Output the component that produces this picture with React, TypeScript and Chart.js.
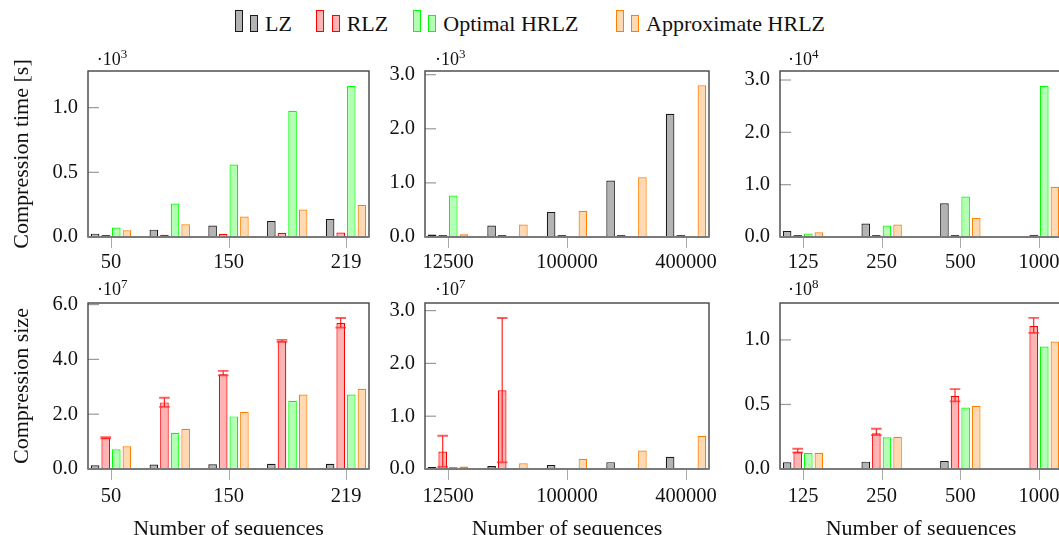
import React, { useEffect, useRef } from "react";
import { Chart, registerables } from "chart.js";

Chart.register(...registerables);

const FONT = "Liberation Serif";
const TEXT = "#111111";

// ---------------- data ----------------
const SERIES = ["LZ", "RLZ", "Optimal HRLZ", "Approximate HRLZ"];

// sequence counts (x categories) and the ones that carry a tick label
const seqsA = ["50", "100", "150", "200", "219"];
const seqsAShown = ["50", "150", "219"];
const seqsB = ["12500", "50000", "100000", "200000", "400000"];
const seqsBShown = ["12500", "100000", "400000"];
const seqsC = ["125", "250", "500", "1000"];
const seqsCShown = ["125", "250", "500", "1000"];

// compression time [s]
const timeLZ_A = [26, 57, 88, 124, 139];
const timeRLZ_A = [9, 18, 25, 33, 34];
const timeOpt_A = [73, 258, 560, 975, 1168];
const timeApx_A = [52, 98, 158, 212, 248];

const timeLZ_B = [44, 211, 463, 1044, 2278];
const timeRLZ_B = [6, 6, 7, 25, 37];
const timeOpt_B = [766, null, null, null, null];
const timeApx_B = [50, 229, 481, 1105, 2803];

const timeLZ_C = [1150, 2570, 6460, null];
const timeRLZ_C = [120, 150, 200, 420];
const timeOpt_C = [650, 2180, 7740, 28900];
const timeApx_C = [900, 2370, 3640, 9580];

// compression size
const sizeLZ_A = [1.34e6, 1.6e6, 1.7e6, 1.9e6, 1.9e6];
const sizeRLZ_A = [1.14e7, 2.43e7, 3.46e7, 4.66e7, 5.33e7];
const sizeRLZLow_A = [1.12e7, 2.27e7, 3.42e7, 4.64e7, 5.16e7];
const sizeRLZHigh_A = [1.16e7, 2.6e7, 3.58e7, 4.71e7, 5.51e7];
const sizeOpt_A = [0.72e7, 1.32e7, 1.92e7, 2.49e7, 2.72e7];
const sizeApx_A = [0.83e7, 1.47e7, 2.09e7, 2.72e7, 2.93e7];

const sizeLZ_B = [0.03e7, 0.057e7, 0.076e7, 0.13e7, 0.23e7];
const sizeRLZ_B = [0.33e7, 1.49e7, null, null, null];
const sizeRLZLow_B = [0.04e7, 0.127e7, null, null, null];
const sizeRLZHigh_B = [0.63e7, 2.86e7, null, null, null];
const sizeOpt_B = [0.04e7, null, null, null, null];
const sizeApx_B = [0.045e7, 0.11e7, 0.195e7, 0.35e7, 0.63e7];

const sizeLZ_C = [0.052e8, 0.057e8, 0.062e8, null];
const sizeRLZ_C = [0.131e8, 0.276e8, 0.567e8, 1.108e8];
const sizeRLZLow_C = [0.128e8, 0.263e8, 0.524e8, 1.054e8];
const sizeRLZHigh_C = [0.157e8, 0.312e8, 0.619e8, 1.17e8];
const sizeOpt_C = [0.124e8, 0.245e8, 0.477e8, 0.949e8];
const sizeApx_C = [0.126e8, 0.25e8, 0.49e8, 0.988e8];

// y axes: tick values, multiplier and upper limit
const yTicksTimeA = [0, 500, 1000];
const yTicksTimeB = [0, 1000, 2000, 3000];
const yTicksTimeC = [0, 10000, 20000, 30000];
const yTicksSizeA = [0, 2e7, 4e7, 6e7];
const yTicksSizeB = [0, 1e7, 2e7, 3e7];
const yTicksSizeC = [0, 0.5e8, 1e8];
const yExpTimeA = 3, yExpTimeB = 3, yExpTimeC = 4;
const yExpSizeA = 7, yExpSizeB = 7, yExpSizeC = 8;
const yMaxTimeA = 1283, yMaxTimeB = 3068, yMaxTimeC = 31720;
const yMaxSizeA = 6.058e7, yMaxSizeB = 3.144e7, yMaxSizeC = 1.286e8;

// ---------------- styles ----------------
const FILLS = ["#b3b3b3", "#ffb3b3", "#b3ffb3", "#ffd9b3"];
const BORDERS = ["#1a1a1a", "#ff0000", "#00ff00", "#ff8000"];

const WY = 70, PT = 30, PR = 40, HX = 50;
const EDGE_PX = 23, SLOT_PX = 10.6, BAR_PX = 8.6;

type Rect = { l: number; t: number; r: number; b: number };
type PanelProps = {
  rect: Rect;
  groups: string[];
  shown: string[];
  values: (number | null)[][];
  errLow?: (number | null)[];
  errHigh?: (number | null)[];
  yMax: number;
  yTicks: number[];
  yExp: number;
  xPad: number;
};

function makeErrPlugin(low?: (number | null)[], high?: (number | null)[]) {
  return {
    id: "errbars",
    afterDatasetsDraw(chart: any) {
      if (!low || !high) return;
      const meta = chart.getDatasetMeta(1);
      const y = chart.scales.y;
      const ctx = chart.ctx;
      ctx.save();
      meta.data.forEach((bar: any, i: number) => {
        const lo = low[i];
        const hi = high[i];
        if (lo == null || hi == null) return;
        const x = bar.x;
        const w = bar.width;
        const yl = y.getPixelForValue(lo);
        const yh = y.getPixelForValue(hi);
        ctx.strokeStyle = "rgba(255,0,0,0.85)";
        ctx.lineWidth = 1.2;
        ctx.beginPath();
        ctx.moveTo(x, yl);
        ctx.lineTo(x, yh);
        ctx.stroke();
        ctx.strokeStyle = "rgba(255,40,40,0.75)";
        ctx.lineWidth = 1.8;
        ctx.beginPath();
        ctx.moveTo(x - w / 2 - 1, yl);
        ctx.lineTo(x + w / 2 + 1, yl);
        ctx.moveTo(x - w / 2 - 1, yh);
        ctx.lineTo(x + w / 2 + 1, yh);
        ctx.stroke();
      });
      ctx.restore();
    },
  };
}

const framePlugin = {
  id: "frame",
  afterDraw(chart: any) {
    const { ctx, chartArea: a } = chart;
    const x = chart.scales.x;
    const y = chart.scales.y;
    ctx.save();
    // y ticks (inside)
    ctx.strokeStyle = "#9a9a9a";
    ctx.lineWidth = 1.2;
    y.ticks.forEach((t: any) => {
      if (t.value === 0) return;
      const py = y.getPixelForValue(t.value);
      ctx.beginPath();
      ctx.moveTo(a.left, py);
      ctx.lineTo(a.left + 11, py);
      ctx.stroke();
    });
    // x ticks (outside)
    ctx.strokeStyle = "#aaaaaa";
    ctx.lineWidth = 1;
    x.ticks.forEach((t: any) => {
      const px = Math.round(x.getPixelForValue(t.value)) + 0.5;
      ctx.beginPath();
      ctx.moveTo(px, a.bottom);
      ctx.lineTo(px, a.bottom + 11);
      ctx.stroke();
    });
    // frame
    ctx.strokeStyle = "#444444";
    ctx.lineWidth = 1.4;
    ctx.strokeRect(a.left, a.top, a.right - a.left, a.bottom - a.top);
    // zero axis line
    ctx.strokeStyle = "#7a7a7a";
    ctx.lineWidth = 2;
    const z = y.getPixelForValue(0);
    ctx.beginPath();
    ctx.moveTo(a.left, z);
    ctx.lineTo(a.right, z);
    ctx.stroke();
    ctx.restore();
  },
};

function Panel(p: PanelProps) {
  const ref = useRef<HTMLCanvasElement>(null);
  const W = p.rect.r - p.rect.l + WY + PR;
  const H = p.rect.b - p.rect.t + PT + HX;
  useEffect(() => {
    const n = p.groups.length;
    const plotW = p.rect.r - p.rect.l;
    const unitPx = (plotW - 2 * EDGE_PX) / (n - 1);
    const edge = EDGE_PX / unitPx;
    const unit = Math.pow(10, p.yExp);
    const datasets = p.values.map((vals, si) => ({
      label: SERIES[si],
      data: vals.map((v, i) => ({ x: i, y: v })),
      backgroundColor: FILLS[si],
      borderColor: BORDERS[si],
      borderWidth: 1.2,
      borderSkipped: false,
      minBarLength: 2,
      categoryPercentage: (4 * SLOT_PX) / unitPx,
      barPercentage: BAR_PX / SLOT_PX,
    }));
    const tickFont = { family: FONT, size: 20.5 };
    const chart = new Chart(ref.current as HTMLCanvasElement, {
      type: "bar",
      data: { datasets } as any,
      options: {
        animation: false,
        responsive: false,
        devicePixelRatio: 1,
        layout: { padding: { top: PT, right: PR, left: 0, bottom: 0 } },
        plugins: { legend: { display: false }, tooltip: { enabled: false } },
        scales: {
          x: {
            type: "linear",
            offset: false,
            min: -edge,
            max: n - 1 + edge,
            grid: { display: false, drawTicks: false },
            border: { display: false },
            afterBuildTicks: (ax: any) => {
              ax.ticks = p.shown.map((s) => ({ value: p.groups.indexOf(s) }));
            },
            ticks: {
              autoSkip: false,
              maxRotation: 0,
              minRotation: 0,
              padding: p.xPad,
              font: tickFont,
              color: TEXT,
              callback: (v: any) => p.groups[Math.round(Number(v))] ?? "",
            },
            afterFit: (ax: any) => {
              ax.height = HX;
            },
          },
          y: {
            type: "linear",
            min: 0,
            max: p.yMax,
            grid: { display: false, drawTicks: false },
            border: { display: false },
            afterBuildTicks: (ax: any) => {
              ax.ticks = p.yTicks.map((v) => ({ value: v }));
            },
            ticks: {
              padding: 10,
              font: tickFont,
              color: TEXT,
              callback: (v: any) => (Number(v) / unit).toFixed(1),
            },
            afterFit: (ax: any) => {
              ax.width = WY;
            },
          },
        },
      } as any,
      plugins: [makeErrPlugin(p.errLow, p.errHigh), framePlugin] as any,
    });
    return () => chart.destroy();
  }, []);
  return (
    <canvas
      ref={ref}
      width={W}
      height={H}
      style={{ position: "absolute", left: p.rect.l - WY, top: p.rect.t - PT, width: W, height: H }}
    />
  );
}

function Multiplier({ left, baseline, exp }: { left: number; baseline: number; exp: number }) {
  return (
    <div
      style={{
        position: "absolute",
        left,
        top: baseline - 15,
        fontSize: 18,
        lineHeight: "18px",
        whiteSpace: "nowrap",
      }}
    >
      ·10<sup style={{ fontSize: 13, lineHeight: 0, verticalAlign: "7px" }}>{exp}</sup>
    </div>
  );
}

const R1: Rect = { l: 88, t: 71, r: 369, b: 237 };
const R2: Rect = { l: 425, t: 71, r: 709, b: 237 };
const R3: Rect = { l: 780, t: 71, r: 1062, b: 237 };
const R4: Rect = { l: 88, t: 303, r: 369, b: 469 };
const R5: Rect = { l: 425, t: 303, r: 709, b: 469 };
const R6: Rect = { l: 780, t: 303, r: 1062, b: 469 };

const LEGEND_POS = [
  [235, 250.3, 265],
  [316, 331.7, 346.7],
  [413.3, 428.3, 443.3],
  [615.7, 631, 646],
];

export default function App() {
  const titleStyle: React.CSSProperties = {
    position: "absolute",
    fontFamily: FONT,
    fontSize: 22,
    lineHeight: "22px",
    whiteSpace: "nowrap",
  };
  return (
    <div
      style={{
        position: "absolute",
        left: 0,
        top: 0,
        width: 1059,
        height: 535,
        overflow: "hidden",
        background: "#ffffff",
        fontFamily: FONT,
        color: TEXT,
      }}
    >
      {/* legend */}
      {SERIES.map((name, i) => {
        const [x1, x2, tx] = LEGEND_POS[i];
        const box = (left: number, top: number, h: number) => (
          <div
            style={{
              position: "absolute",
              left,
              top,
              width: 8,
              height: h,
              boxSizing: "border-box",
              border: `1.2px solid ${BORDERS[i]}`,
              background: FILLS[i],
            }}
          />
        );
        return (
          <React.Fragment key={name}>
            {box(x1, 10, 22)}
            {box(x2, 15, 17)}
            <div style={{ ...titleStyle, left: tx, top: 13.3 }}>{name}</div>
          </React.Fragment>
        );
      })}

      <Panel rect={R1} groups={seqsA} shown={seqsAShown}
        values={[timeLZ_A, timeRLZ_A, timeOpt_A, timeApx_A]}
        yMax={yMaxTimeA} yTicks={yTicksTimeA} yExp={yExpTimeA} xPad={13} />
      <Panel rect={R2} groups={seqsB} shown={seqsBShown}
        values={[timeLZ_B, timeRLZ_B, timeOpt_B, timeApx_B]}
        yMax={yMaxTimeB} yTicks={yTicksTimeB} yExp={yExpTimeB} xPad={13} />
      <Panel rect={R3} groups={seqsC} shown={seqsCShown}
        values={[timeLZ_C, timeRLZ_C, timeOpt_C, timeApx_C]}
        yMax={yMaxTimeC} yTicks={yTicksTimeC} yExp={yExpTimeC} xPad={13} />
      <Panel rect={R4} groups={seqsA} shown={seqsAShown}
        values={[sizeLZ_A, sizeRLZ_A, sizeOpt_A, sizeApx_A]}
        errLow={sizeRLZLow_A} errHigh={sizeRLZHigh_A}
        yMax={yMaxSizeA} yTicks={yTicksSizeA} yExp={yExpSizeA} xPad={15} />
      <Panel rect={R5} groups={seqsB} shown={seqsBShown}
        values={[sizeLZ_B, sizeRLZ_B, sizeOpt_B, sizeApx_B]}
        errLow={sizeRLZLow_B} errHigh={sizeRLZHigh_B}
        yMax={yMaxSizeB} yTicks={yTicksSizeB} yExp={yExpSizeB} xPad={15} />
      <Panel rect={R6} groups={seqsC} shown={seqsCShown}
        values={[sizeLZ_C, sizeRLZ_C, sizeOpt_C, sizeApx_C]}
        errLow={sizeRLZLow_C} errHigh={sizeRLZHigh_C}
        yMax={yMaxSizeC} yTicks={yTicksSizeC} yExp={yExpSizeC} xPad={15} />

      <Multiplier left={96.7} baseline={65} exp={yExpTimeA} />
      <Multiplier left={435} baseline={65} exp={yExpTimeB} />
      <Multiplier left={788} baseline={65} exp={yExpTimeC} />
      <Multiplier left={97} baseline={295} exp={yExpSizeA} />
      <Multiplier left={435} baseline={295} exp={yExpSizeB} />
      <Multiplier left={788} baseline={295} exp={yExpSizeC} />

      {/* y axis titles */}
      <div style={{ ...titleStyle, left: 21, top: 154, transform: "translate(-50%, -50%) rotate(-90deg)" }}>
        Compression time [s]
      </div>
      <div style={{ ...titleStyle, left: 21, top: 386, transform: "translate(-50%, -50%) rotate(-90deg)" }}>
        Compression size
      </div>

      {/* x axis titles */}
      {[R4, R5, R6].map((r, i) => (
        <div key={i} style={{ ...titleStyle, left: (r.l + r.r) / 2, top: 517, transform: "translateX(-50%)" }}>
          Number of sequences
        </div>
      ))}
    </div>
  );
}
